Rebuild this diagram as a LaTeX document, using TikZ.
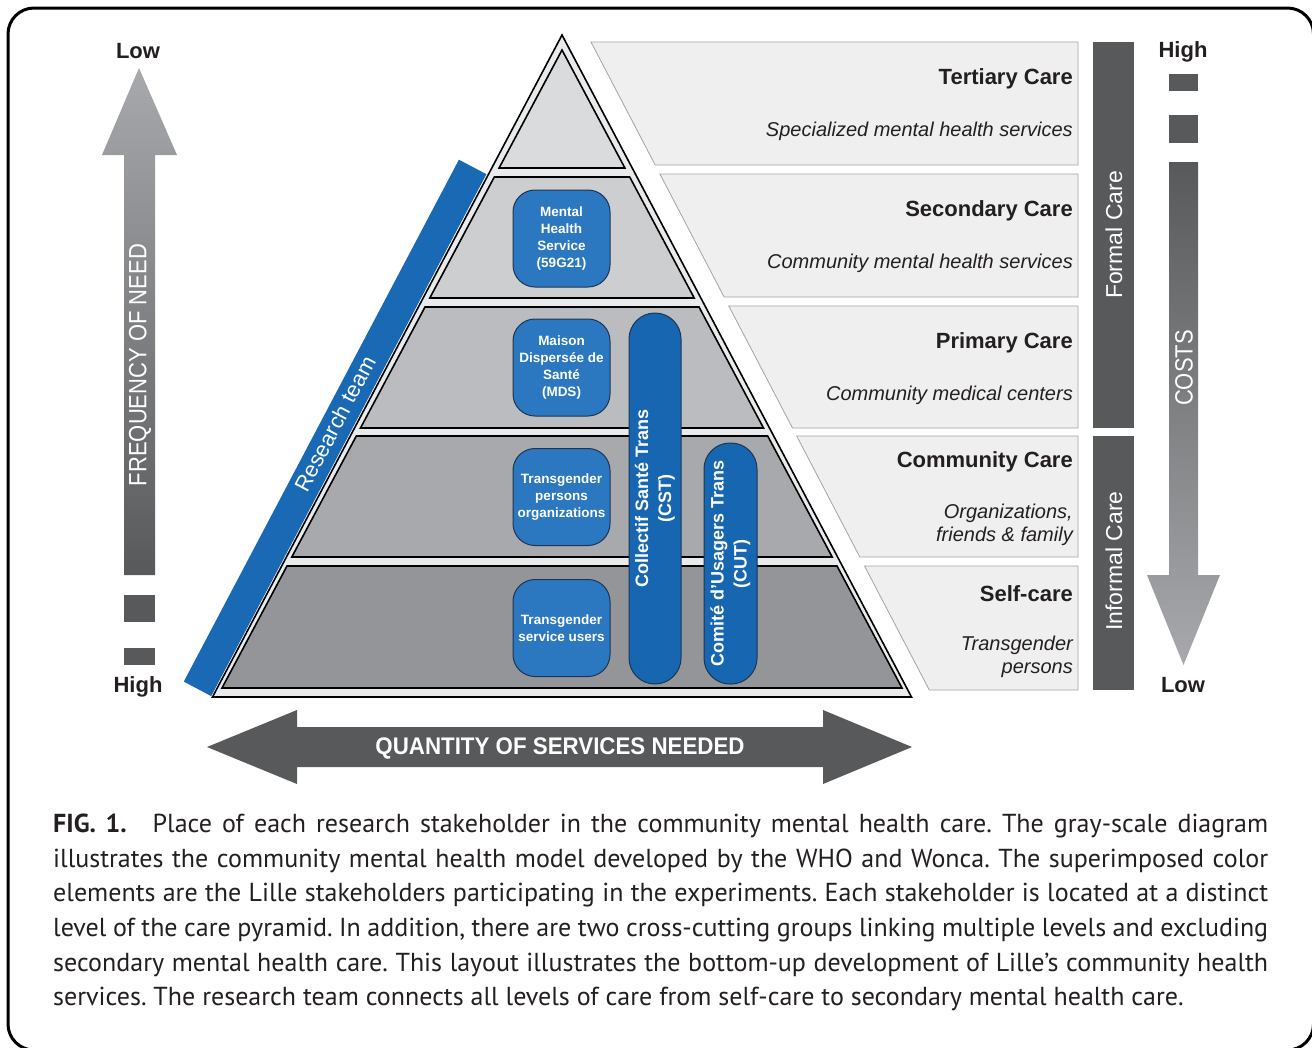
\documentclass[tikz,border=0pt]{standalone}
\usepackage{fontspec}
\setmainfont{Liberation Sans}
\newfontfamily\capfont{PT Sans}
\newfontfamily\narrowfont{Liberation Sans}[FakeStretch=0.88]
\newfontfamily\qtyfont{Liberation Sans}[FakeStretch=0.93]
\definecolor{bargray}{HTML}{58595B}
\definecolor{lightarrow}{HTML}{A7A9AC}
\definecolor{panelgray}{HTML}{EFEFF0}
\definecolor{panelline}{HTML}{A3A4A6}
\definecolor{pyrbg}{HTML}{E9EAEB}
\definecolor{lay1}{HTML}{DADBDC}
\definecolor{lay2}{HTML}{CDCED0}
\definecolor{lay3}{HTML}{BBBCBF}
\definecolor{lay4}{HTML}{A8A9AC}
\definecolor{lay5}{HTML}{939598}
\definecolor{boxblue}{HTML}{2B78C1}
\definecolor{pillblue}{HTML}{1766B2}
\definecolor{barblue}{HTML}{1A69B5}
\definecolor{boxline}{HTML}{1D3550}
\definecolor{txt}{HTML}{231F20}
\begin{document}
\begin{tikzpicture}[x=1pt,y=-1pt,
  panel/.style={fill=panelgray, draw=panelline, line width=0.8pt},
  layer/.style={draw=black, line width=1.6pt, line join=miter},
  bluebox/.style={rounded corners=22pt, fill=boxblue, draw=boxline, line width=1pt,
    minimum width=97pt, minimum height=97pt, text=white, align=center,
    font=\bfseries\fontsize{13.5}{17}\selectfont, inner sep=0pt},
  pill/.style={rounded corners=26pt, fill=pillblue, draw=boxline, line width=1pt,
    text=white, align=center, font=\bfseries\fontsize{18}{23}\selectfont,
    rotate=90, inner sep=0pt},
  ptitle/.style={anchor=east, font=\bfseries\fontsize{22}{26}\selectfont, text=txt, inner sep=0pt},
  psub/.style={anchor=east, font=\itshape\fontsize{20}{23}\selectfont, text=txt, align=right, inner sep=0pt},
  endlabel/.style={font=\bfseries\fontsize{22}{26}\selectfont, text=txt, inner sep=0pt},
  sidebar/.style={fill=bargray, draw=none},
  sidetext/.style={text=white, rotate=90, font=\fontsize{23}{26}\selectfont, inner sep=0pt},
  narrowtext/.style={text=white, font=\narrowfont\fontsize{25}{28}\selectfont, inner sep=0pt}
]
\useasboundingbox (0,0) rectangle (1312,1047);
\fill[white] (0,0) rectangle (1312,1047);
% frame
\draw[line width=3pt, rounded corners=26pt] (8,8) rectangle (1313.5,1050);

% ---------- left arrow (frequency of need)
\shade[top color=lightarrow, bottom color=bargray]
  (139,68) -- (177,155) -- (155,155) -- (155,575) -- (124,575) -- (124,155) -- (102,155) -- cycle;
\fill[bargray] (124,595) rectangle (155,622);
\fill[bargray] (124,648) rectangle (155,665);
\node[narrowtext, rotate=90] (freq) at (140,365) {FREQUENCY OF NEED};
\node[endlabel] (lowL) at (138,51) {Low};
\node[endlabel] (highL) at (138,687) {High};

% ---------- right panels
\path[panel] (591,42) -- (1078,42) -- (1078,165) -- (655.2,165) -- cycle;
\path[panel] (659.9,174) -- (1078,174) -- (1078,297) -- (724.1,297) -- cycle;
\path[panel] (728.8,306) -- (1078,306) -- (1078,428) -- (792.5,428) -- cycle;
\path[panel] (796.7,436) -- (1078,436) -- (1078,557) -- (859.8,557) -- cycle;
\path[panel] (864.5,566) -- (1078,566) -- (1078,690) -- (929.3,690) -- cycle;

\node[ptitle] (t1) at (1073,79) {Tertiary Care};
\node[psub] (s1) at (1073,131) {Specialized mental health services};
\node[ptitle] (t2) at (1073,211) {Secondary Care};
\node[psub] (s2) at (1073,263) {Community mental health services};
\node[ptitle] (t3) at (1073,343) {Primary Care};
\node[psub] (s3) at (1073,395) {Community medical centers};
\node[ptitle] (t4) at (1073,462) {Community Care};
\node[psub] (s4) at (1073,525) {Organizations,\\friends \& family};
\node[ptitle] (t5) at (1073,594) {Self-care};
\node[psub] (s5) at (1073,657) {Transgender\\persons};

% ---------- formal / informal bars
\path[sidebar] (1093,42) rectangle (1134,428);
\path[sidebar] (1093,436) rectangle (1134,690);
\node[sidetext] (formal) at (1114,235) {Formal Care};
\node[sidetext] (informal) at (1114,561) {Informal Care};

% ---------- costs arrow
\fill[bargray] (1169,74) rectangle (1198,91);
\fill[bargray] (1169,115) rectangle (1198,143);
\shade[top color=bargray, bottom color=lightarrow]
  (1169,162) -- (1198,162) -- (1198,575) -- (1220,575) -- (1183.5,665) -- (1147,575) -- (1169,575) -- cycle;
\node[narrowtext, rotate=90] (costs) at (1184,368) {COSTS};
\node[endlabel] (highR) at (1183,52) {High};
\node[endlabel] (lowR) at (1183,685) {Low};

% ---------- research team bar
\fill[barblue] (183.8,681.6) -- (211.2,696.1) -- (486.4,174.2) -- (458.9,159.7) -- cycle;
\node[text=white, rotate=62.2, font=\fontsize{22}{26}\selectfont, inner sep=0pt] (research) at (335,424) {Research team};

% ---------- pyramid
\path[fill=pyrbg, draw=black, line width=1.6pt, line join=miter] (562,35) -- (911.5,697) -- (212.5,697) -- cycle;
\path[layer, fill=lay1] (562,50) -- (624.9,168) -- (499.1,168) -- cycle;
\path[layer, fill=lay2] (494.3,177) -- (629.7,177) -- (694.2,298) -- (429.8,298) -- cycle;
\path[layer, fill=lay3] (425.0,307) -- (699.0,307) -- (763.5,428) -- (360.5,428) -- cycle;
\path[layer, fill=lay4] (356.3,436) -- (767.7,436) -- (832.2,557) -- (291.8,557) -- cycle;
\path[layer, fill=lay5] (287.0,566) -- (837.0,566) -- (902.0,688) -- (222.0,688) -- cycle;

% ---------- stakeholder boxes
\node[bluebox] (mhs) at (561.5,238.5) {Mental\\Health\\Service\\(59G21)};
\node[bluebox] (mds) at (561.5,367.5) {Maison\\Dispers\'ee de\\Sant\'e\\(MDS)};
\node[bluebox] (tpo) at (561.5,497) {Transgender\\persons\\organizations};
\node[bluebox] (tsu) at (561.5,628) {Transgender\\service users};
\node[pill, minimum width=371pt, minimum height=52pt] (cst) at (655,498.5) {Collectif Sant\'e Trans\\(CST)};
\node[pill, minimum width=241pt, minimum height=53pt] (cut) at (730.5,563.5) {Comit\'e d'Usagers Trans\\(CUT)};

% ---------- quantity arrow
\fill[bargray] (207,747) -- (297,710) -- (297,727) -- (823,727) -- (823,710) -- (912,747)
  -- (823,784) -- (823,767) -- (297,767) -- (297,784) -- cycle;
\node[text=white, font=\qtyfont\bfseries\fontsize{24}{26}\selectfont, inner sep=0pt] (qty) at (560,748) {QUANTITY OF SERVICES NEEDED};

% ---------- caption
\node[anchor=north west, text width=1215pt, align=justify, inner sep=0pt, text=txt,
  font=\capfont\frenchspacing\fontsize{26}{34.6}\selectfont] (caption) at (53,814)
{\textbf{FIG. 1.}\hspace{26pt}Place of each research stakeholder in the community mental health care. The gray-scale diagram\linebreak
illustrates the community mental health model developed by the WHO and Wonca. The superimposed color\linebreak
elements are the Lille stakeholders participating in the experiments. Each stakeholder is located at a distinct\linebreak
level of the care pyramid. In addition, there are two cross-cutting groups linking multiple levels and excluding\linebreak
secondary mental health care. This layout illustrates the bottom-up development of Lille’s community health\linebreak
services. The research team connects all levels of care from self-care to secondary mental health care.};
\end{tikzpicture}
\end{document}
